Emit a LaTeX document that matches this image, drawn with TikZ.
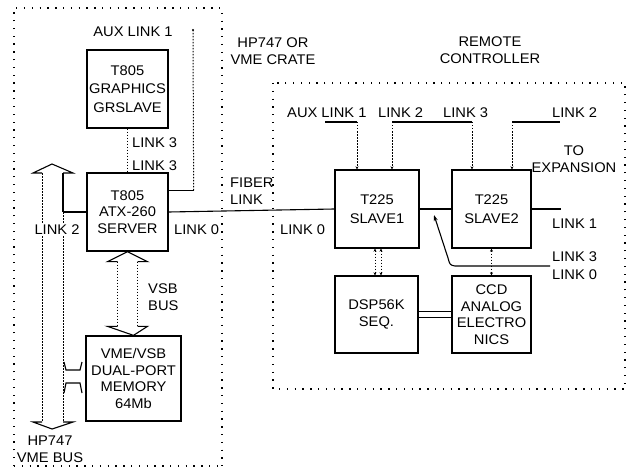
\documentclass[tikz,border=0pt]{standalone}
\usepackage{fontspec}
\setmainfont{Liberation Sans}[FakeStretch=1.05]
\usetikzlibrary{calc,arrows.meta}
\tikzset{
  x=1pt,y=-1pt,
  every node/.style={font=\fontsize{14}{16.5}\selectfont},
  blk/.style={draw,line width=1.3pt,align=center,inner sep=0pt},
  lbl/.style={inner sep=0pt,align=center},
  lbll/.style={inner sep=0pt,align=left,anchor=west},
  crate/.style={line width=1.3pt,dash pattern=on 1.3pt off 6.5pt},
  wire/.style={line width=1.1pt},
  dwire/.style={line width=1pt,dash pattern=on 1.5pt off 1.5pt},
  hollow/.style={line width=1.1pt},
  tip/.style={-{Stealth[length=3pt,width=3pt]}},
  tips/.style={{Stealth[length=3pt,width=3pt]}-{Stealth[length=3pt,width=3pt]}},
}
\begin{document}
\begin{tikzpicture}
\useasboundingbox (0,0) rectangle (634,468);
% crates
\draw[crate] (14,466) -- (14,8) -- (222,8) -- (222,466);
\draw[crate] (14,466) -- (222,466);
\draw[crate] (273,83) rectangle (625,389);

% titles
\node[lbl] (crateL) at (273,51) {HP747 OR\\VME CRATE};
\node[lbl] (remT) at (490,50) {REMOTE\\CONTROLLER};

% boxes
\node[blk,minimum width=81,minimum height=78] (gr) at (127.5,89) {T805\\[2pt]GRAPHICS\\[2pt]GRSLAVE};
\node[blk,minimum width=81,minimum height=78] (srv) at (127.5,212) {T805\\ATX-260\\SERVER};
\node[blk,minimum width=95,minimum height=85] (mem) at (133.5,378.5) {VME/VSB\\DUAL-PORT\\MEMORY\\64Mb};
\node[blk,minimum width=84,minimum height=78] (s1) at (377,209) {T225\\[3pt]SLAVE1};
\node[blk,minimum width=79,minimum height=78] (s2) at (491.5,209) {T225\\[3pt]SLAVE2};
\node[blk,minimum width=83,minimum height=77] (dsp) at (376.5,314.5) {DSP56K\\SEQ.};
\node[blk,minimum width=79,minimum height=77] (ccd) at (491.5,314.5) {CCD\\ANALOG\\ELECTRO\\NICS};

% labels left crate
\node[lbl] (aux1) at (133,32) {AUX LINK 1};
\node[lbll] (l3a) at (132,143) {LINK 3};
\node[lbll] (l3b) at (132,166) {LINK 3};
\node[lbl] (vme) at (50,449) {HP747\\VME BUS};
\node[lbll] (vsb) at (148,297) {VSB\\BUS};
\node[lbll] (l0a) at (174,230) {LINK 0};
\node[lbll] (fib) at (230,191) {FIBER\\LINK};
\node[lbll] (l0b) at (280,230) {LINK 0};

% labels right crate
\node[lbll] (ra1) at (287,113) {AUX LINK 1};
\node[lbll] (rl2) at (378,113) {LINK 2};
\node[lbll] (rl3) at (443,113) {LINK 3};
\node[lbll] (rl2b) at (552,113) {LINK 2};
\node[lbl] (toexp) at (574,159) {TO\\EXPANSION};
\node[lbll] (rl1) at (552,224) {LINK 1};
\node[lbll] (rl3b) at (552,257) {LINK 3};
\node[lbll] (rl0) at (552,275) {LINK 0};

% GRSLAVE - SERVER link 3
\draw[dwire] (gr.south) -- (srv.north);
% AUX link 1 of server
\coordinate (auxe) at (193,30);
\draw[wire] ($(srv.north east)+(0,18)$) -- ($(srv.north east)+(25,18)$) coordinate (auxc);
\draw[dwire] (auxc) -- (auxe);
\fill (auxe) circle (1.2pt);

% left big hollow arrow (VME bus)
\draw[hollow] (42,173) -- (33,173) -- (52,164) -- (73,173) -- (63,173);
\draw[hollow] (42,422) -- (33,422) -- (52,429) -- (73,422) -- (63,422);
\draw[dwire] (42,173) -- (42,422);
\draw[wire] (63,173) -- (63,212);
\draw[dwire] (63,212) -- (63,422);
\draw[wire] (srv.west) -- (63,212);
\node[lbl,fill=white,inner sep=1pt] (l2) at (57,230) {LINK 2};

% memory connector brackets
\draw[wire] (64,362) -- (66,370) -- (80,370) -- (82,362);
\draw[wire] (64,393) -- (66,383) -- (80,383) -- (82,393);

% VSB hollow arrow
\draw[hollow] ($(srv.south)+(-10,10)$) -- ($(srv.south)+(-20,10)$) -- (srv.south) -- ($(srv.south)+(20,10)$) -- ($(srv.south)+(10,10)$);
\draw[hollow] ($(mem.north)+(-16,-9)$) -- ($(mem.north)+(-26,-9)$) -- (mem.north) -- ($(mem.north)+(14,-9)$) -- ($(mem.north)+(4,-9)$);
\draw[dwire] ($(srv.south)+(-10,10)$) -- ($(mem.north)+(-16,-9)$);
\draw[dwire] ($(srv.south)+(10,10)$) -- ($(mem.north)+(4,-9)$);

% fiber link
\draw[wire] (srv.east) -- (s1.west);
% slave1 - slave2
\draw[wire] (s1.east) -- (s2.west);
\draw[wire] (s2.east) -- ++(29,0) coordinate (l1e);

% top links
\coordinate (a1) at (357,122);
\draw[wire] (325,122) -- (a1);
\draw[dwire,tip] (a1) -- (a1 |- s1.north);
\coordinate (b1) at (392,122);
\coordinate (b2) at (472,122);
\draw[wire] (b1) -- (b2);
\draw[dwire,tip] (b1) -- (b1 |- s1.north);
\draw[dwire,tip] (b2) -- (b2 |- s2.north);
\coordinate (c1) at (512,122);
\draw[wire] (c1) -- (560,122);
\draw[dwire,tip] (c1) -- (c1 |- s2.north);

% slave1 - dsp double dotted
\draw[dwire,tips] ($(s1.south)+(-2,0)$) -- ($(dsp.north)+(-1.5,0)$);
\draw[dwire,tips] ($(s1.south)+(4,0)$) -- ($(dsp.north)+(4.5,0)$);
% slave2 - ccd
\draw[dwire,tips] (s2.south) -- (ccd.north);
% dsp - ccd double line
\draw[wire] ($(dsp.east)+(0,-3)$) -- ($(ccd.west)+(0,-3)$);
\draw[wire] ($(dsp.east)+(0,3)$) -- ($(ccd.west)+(0,3)$);

% link3/link0 diagonal
\coordinate (dg) at (550,266);
\coordinate (dgt) at (434,215);
\draw[wire,-{Stealth[length=6pt,width=4pt]}] (dg) -- (455,266) .. controls (450,265) .. (448,258) -- (dgt);
\end{tikzpicture}
\end{document}
